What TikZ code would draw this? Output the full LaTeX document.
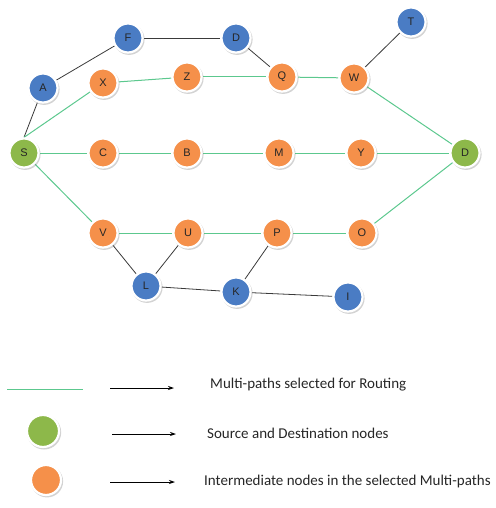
\documentclass[tikz,border=0pt]{standalone}
\usepackage{fontspec}
\setmainfont{Liberation Sans}
\newfontfamily\legendfont{Carlito}
\usetikzlibrary{shadows,backgrounds,arrows.meta}
\definecolor{nblue}{HTML}{4A7CC4}
\definecolor{norange}{HTML}{F5904A}
\definecolor{ngreen}{HTML}{8DB84A}
\definecolor{pathgreen}{HTML}{5CC88E}
\definecolor{linkgray}{HTML}{3A3A3A}
\tikzset{
  netnode/.style={circle, minimum size=29pt, inner sep=0pt, draw=white, line width=2.2pt,
     font=\fontsize{11}{13}\selectfont, text=black!85,
     drop shadow={opacity=0.35, shadow scale=1.07, shadow xshift=1pt, shadow yshift=-1.3pt}},
  bluenode/.style={netnode, fill=nblue},
  orangenode/.style={netnode, fill=norange},
  greennode/.style={netnode, fill=ngreen},
  link/.style={draw=linkgray, line width=0.8pt},
  mpath/.style={draw=pathgreen, line width=1pt},
  legarrow/.style={draw=black, line width=0.8pt, -{Stealth[length=6pt,width=4pt]}},
  legtext/.style={anchor=west, inner sep=0pt, font=\legendfont\fontsize{15}{17}\selectfont, text=black!85}
}
\begin{document}
\begin{tikzpicture}[x=1pt,y=-1pt]
\useasboundingbox (0,0) rectangle (495,508);
% nodes
\node[bluenode] (F) at (128,38) {F};
\node[bluenode] (D1) at (236,38) {D};
\node[bluenode] (A) at (43,88) {A};
\node[orangenode] (X) at (103,83) {X};
\node[orangenode] (Z) at (187,77) {Z};
\node[orangenode] (Q) at (282,77) {Q};
\node[orangenode] (W) at (354,78) {W};
\node[bluenode] (T) at (411,22) {T};
\node[greennode] (S) at (24,153) {S};
\node[orangenode] (C) at (103,153) {C};
\node[orangenode] (B) at (187,153) {B};
\node[orangenode] (M) at (279,153) {M};
\node[orangenode] (Y) at (361,153) {Y};
\node[greennode] (D2) at (465,153) {D};
\node[orangenode] (V) at (103,233) {V};
\node[orangenode] (U) at (188,233) {U};
\node[orangenode] (P) at (277,233) {P};
\node[orangenode] (O) at (362,233) {O};
\node[bluenode] (L) at (146,286) {L};
\node[bluenode] (K) at (236,292) {K};
\node[bluenode] (I) at (348,297) {I};
% edges
\begin{scope}[on background layer]
\draw[link] (S.north) -- (A);
\draw[link] (A) -- (F);
\draw[link] (F) -- (D1);
\draw[link] (D1) -- (Q);
\draw[link] (W) -- (T);
\draw[link] (V) -- (L);
\draw[link] (L) -- (U);
\draw[link] (L) -- (K);
\draw[link] (K) -- (P);
\draw[link] (K) -- (I);
\draw[mpath] (S.north) -- (X);
\draw[mpath] (X) -- (Z);
\draw[mpath] (Z) -- (Q);
\draw[mpath] (Q) -- (W);
\draw[mpath] (W) -- (D2);
\draw[mpath] (S) -- (C);
\draw[mpath] (C) -- (B);
\draw[mpath] (B) -- (M);
\draw[mpath] (M) -- (Y);
\draw[mpath] (Y) -- (D2);
\draw[mpath] (S) -- (V);
\draw[mpath] (V) -- (U);
\draw[mpath] (U) -- (P);
\draw[mpath] (P) -- (O);
\draw[mpath] (O) -- (D2);
\end{scope}
% legend
\coordinate (g1) at (7,389);
\coordinate (g2) at (83,389);
\draw[mpath] (g1) -- (g2);
\node[greennode, minimum size=32pt] (lg) at (43,431) {};
\node[orangenode, minimum size=30pt] (lo) at (46,480) {};
\node[legtext] (t1) at (210,385) {Multi-paths selected for Routing};
\node[legtext] (t2) at (207,433) {Source and Destination nodes};
\node[legtext] (t3) at (204,481) {Intermediate nodes in the selected Multi-paths};
\coordinate (a1s) at (110,388);
\coordinate (a1e) at (174,388);
\coordinate (a2s) at (112,434);
\coordinate (a2e) at (176,434);
\coordinate (a3s) at (110,482);
\coordinate (a3e) at (175,482);
\draw[legarrow] (a1s) -- (a1e);
\draw[legarrow] (a2s) -- (a2e);
\draw[legarrow] (a3s) -- (a3e);
\end{tikzpicture}
\end{document}
